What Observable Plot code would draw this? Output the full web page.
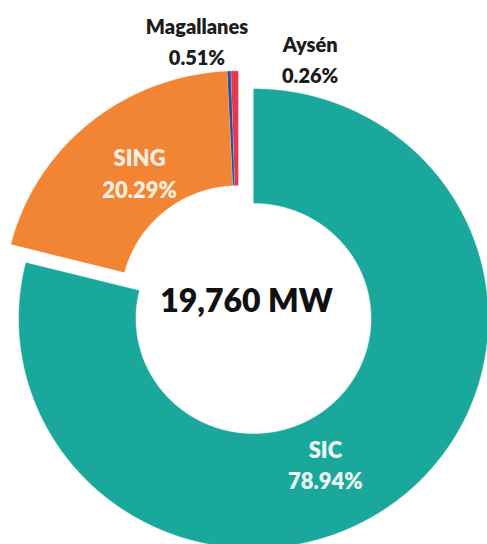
<!DOCTYPE html>
<html>
<head>
<meta charset="utf-8">
<script src="https://cdn.jsdelivr.net/npm/d3@7"></script>
<script src="https://cdn.jsdelivr.net/npm/@observablehq/plot@0.6"></script>
<style>
  html, body { margin: 0; padding: 0; background: #fff; }
  #chart { width: 487px; height: 544px; }
  svg text { font-family: Lato, "Open Sans", sans-serif; font-weight: 800; }
</style>
</head>
<body>
<div id="chart"></div>
<script>
// ---- data ----
const systems = ["SIC", "SING", "Aysén", "Magallanes"];
const shares = [78.94, 20.29, 0.26, 0.51];
const totalMW = 19760;
const colors = ["#1ba89c", "#f28533", "#2f4e9c", "#e5384f"];

// ---- geometry ----
const W = 487, H = 544;
const Rx = 235, Ry = 230;      // outer radius in px (horizontal / vertical)
const cx = 253, cy = 318;      // pie centre in px
const innerR = 0.5, outerR = 1;
const deg = Math.PI / 180;

const rows = systems.map((name, i) => ({name, share: shares[i]}));
const arcs = d3.pie().sort(null).value(d => d.share).startAngle(0).endAngle(2 * Math.PI)(rows);
const byName = new Map(arcs.map(a => [a.data.name, a]));

const polar = (r, a) => [r * Math.sin(a), r * Math.cos(a)];
const mid = a => (a.startAngle + a.endAngle) / 2;

// SING is pulled out; the two thin slices follow it
const singArc = byName.get("SING");
const [sx, sy] = polar(0.1, mid(singArc));
const offsets = new Map([["SIC", [0, 0]], ["SING", [sx, sy]], ["Aysén", [sx, sy]], ["Magallanes", [sx, sy]]]);

const pts = [];
for (const a of arcs) {
  const [ox, oy] = offsets.get(a.data.name);
  const n = Math.max(2, Math.ceil((a.endAngle - a.startAngle) / (0.4 * deg)));
  for (let i = 0; i <= n; i++) {
    const t = a.startAngle + (a.endAngle - a.startAngle) * i / n;
    const [x, y] = polar(outerR, t);
    pts.push({name: a.data.name, x: x + ox, y: y + oy});
  }
  for (let i = n; i >= 0; i--) {
    const t = a.startAngle + (a.endAngle - a.startAngle) * i / n;
    const [x, y] = polar(innerR, t);
    pts.push({name: a.data.name, x: x + ox, y: y + oy});
  }
}

// label placement (relative to each slice's middle angle)
const labelPlace = {
  "SIC": {turn: 12, r: 0.70},
  "SING": {turn: 2, r: 0.80},
  "Aysén": {turn: 14.3, r: 1.16},
  "Magallanes": {turn: -10.3, r: 1.237}
};
const labels = arcs.map(a => {
  const p = labelPlace[a.data.name];
  const [x, y] = polar(p.r, mid(a) + p.turn * deg);
  return {name: a.data.name, x, y, text: `${a.data.name}\n${a.data.share.toFixed(2)}%`, inside: p.r < 1};
});

const chart = Plot.plot({
  width: W,
  height: H,
  margin: 0,
  x: {domain: [-cx / Rx, (W - cx) / Rx], axis: null},
  y: {domain: [-(H - cy) / Ry, cy / Ry], axis: null},
  color: {domain: systems, range: colors},
  marks: [
    Plot.line(pts, {x: "x", y: "y", z: "name", fill: "name", stroke: "white", strokeWidth: 0.5, curve: "linear"}),
    Plot.text(labels.filter(d => d.name === "SING"), {x: "x", y: "y", text: "text", fill: "#fdeee2", fontSize: 22, lineHeight: 1.45}),
    Plot.text(labels.filter(d => d.name === "SIC"), {x: "x", y: "y", text: "text", fill: "#eef8f6", fontSize: 22, lineHeight: 1.4}),
    Plot.text(labels.filter(d => !d.inside), {x: "x", y: "y", text: "text", fill: "#1c1c1c", fontSize: 20, lineHeight: 1.55}),
    Plot.text([totalMW], {x: () => 0, y: () => 0, text: d => `${d3.format(",")(d)} MW`, fill: "#111", fontSize: 32, dx: -7, dy: -17})
  ]
});
document.getElementById("chart").appendChild(chart);
</script>
</body>
</html>
